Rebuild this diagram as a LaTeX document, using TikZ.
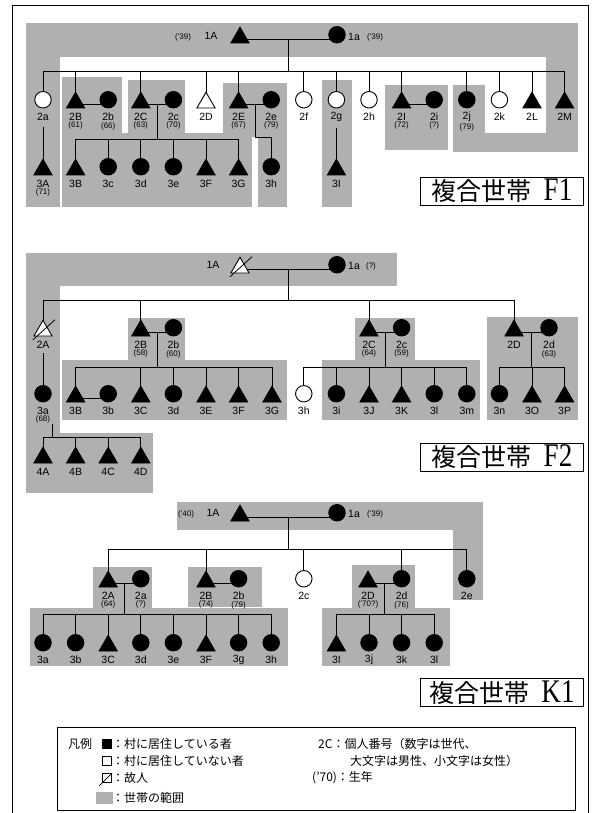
\documentclass[tikz,border=0pt]{standalone}
\usepackage{fontspec}
\usepackage{graphicx}
\setmainfont{Liberation Sans}
\newfontfamily\cjk{Noto Sans CJK JP}
\newfontfamily\serifF{Liberation Serif}
\usetikzlibrary{shapes.geometric,calc}
\pgfdeclarelayer{shadelayer}
\pgfdeclarelayer{linelayer}
\pgfsetlayers{shadelayer,linelayer,main}
\newcommand\labfont{\fontsize{10.5}{10.5}\selectfont}
\newcommand\yrfont{\fontsize{8}{8}\selectfont}
\newcommand\lgfont{\cjk\fontsize{12}{12}\selectfont}
\tikzset{
 sym/.style={draw, line width=0.9pt, inner sep=0pt, outer sep=0pt},
 pm/.style={sym, regular polygon, regular polygon sides=3, minimum size=21pt, fill=black, yshift=5.25pt},
 pmo/.style={pm, fill=white},
 pf/.style={sym, circle, minimum size=16.5pt, fill=black, yshift=8.25pt},
 pfo/.style={pf, fill=white},
 lab/.style={font=\labfont, inner sep=0pt},
 yr/.style={font=\yrfont, inner sep=0pt},
 ln/.style={line width=0.8pt},
 mln/.style={line width=1.2pt},
 shd/.style={fill=black!31},
 lgt/.style={font=\lgfont, inner sep=0pt, anchor=west},
 titlebox/.style={draw, line width=0.9pt, minimum width=163pt, minimum height=28pt, inner sep=0pt},
}
\newcommand\psym[4]{\node[#2] (#1) at (#3,#4) {};}
\newcommand\person[5]{\psym{#1}{#2}{#3}{#4}\node[lab] (#1l) at (#3,#4+9) {#5};}
\newcommand\pyear[2]{\node[yr, anchor=north] (#1y) at ($(#1l.south)+(0,1)$) {#2};}
\newcommand\pmarry[2]{\path ($(#1.center)+(0,2)$) coordinate (mA); \draw[mln] (mA) -- (mA -| #2.center);}
\newcommand\pdesc[3]{\path ($(#1.center)!.5!(#2.center)$) coordinate (dmA); \path (dmA |- #1.center) coordinate (dmB); \draw[ln] ($(dmB)+(0,2)$) -- (dmB |- #3);}
\newcommand\pbar[3]{\draw[ln] (#1.center |- #3) -- (#2.center |- #3);}
\newcommand\pdrop[2]{\draw[ln] (#1.center |- #2) -- (#1.center);}
\newcommand\ptitle[3]{\node[titlebox] (#1) at (502,#2) {\cjk\fontsize{25}{25}\selectfont 複合世帯\hspace{12pt}\serifF\scalebox{0.82}[1]{\fontsize{33}{33}\selectfont #3}};}
\begin{document}
\begin{tikzpicture}[x=1pt,y=-1pt]
\useasboundingbox (0,0) rectangle (594,813);
\draw[line width=0.9pt] (12,813) -- (12,5) -- (588,5) -- (588,813);

% ================= F1 =================
\begin{pgfonlayer}{shadelayer}
\fill[shd] (26,23) rectangle (578,57);
\fill[shd] (26,23) rectangle (60,207);
\fill[shd] (546,23) rectangle (578,152);
\fill[shd] (453,85) rectangle (485,152);
\fill[shd] (453,133) rectangle (578,152);
\fill[shd] (385,85) rectangle (448,150);
\fill[shd] (322,80) rectangle (352,207);
\fill[shd] (62,77) rectangle (122,137);
\fill[shd] (128,80) rectangle (185,137);
\fill[shd] (223,83) rectangle (287,137);
\fill[shd] (62,133) rectangle (252,207);
\fill[shd] (258,133) rectangle (287,207);
\end{pgfonlayer}
\psym{F1-1A}{pm}{240}{43}
\psym{F1-1a}{pf}{337}{43}
\node[yr] (F1-1Ay) at (183,37) {(’39)};
\node[lab] (F1-1Al) at (211,36) {1A};
\node[lab] (F1-1al) at (354,37) {1a};
\node[yr] (F1-1ay) at (375,37) {(’39)};
\coordinate (F1b2) at (0,71);
\coordinate (F1b3) at (0,139);
\person{F1-2a}{pfo}{43}{108}{2a}
\person{F1-2B}{pm}{75.6}{108}{2B}\pyear{F1-2B}{(61)}
\person{F1-2b}{pf}{108.2}{108}{2b}\pyear{F1-2b}{(66)}
\person{F1-2C}{pm}{140.8}{108}{2C}\pyear{F1-2C}{(63)}
\person{F1-2c}{pf}{173.4}{108}{2c}\pyear{F1-2c}{(70)}
\person{F1-2D}{pmo}{206}{108}{2D}
\person{F1-2E}{pm}{238.6}{108}{2E}\pyear{F1-2E}{(67)}
\person{F1-2e}{pf}{271.2}{108}{2e}\pyear{F1-2e}{(79)}
\person{F1-2f}{pfo}{303.8}{108}{2f}
\person{F1-2g}{pfo}{336.4}{108}{2g}
\person{F1-2h}{pfo}{369}{108}{2h}
\person{F1-2I}{pm}{401.6}{108}{2I}\pyear{F1-2I}{(72)}
\person{F1-2i}{pf}{434.2}{108}{2i}\pyear{F1-2i}{(?)}
\person{F1-2j}{pf}{466.8}{108}{2j}\pyear{F1-2j}{(79)}
\person{F1-2k}{pfo}{499.4}{108}{2k}
\person{F1-2L}{pm}{532}{108}{2L}
\person{F1-2M}{pm}{564.6}{108}{2M}
\person{F1-3A}{pm}{43}{175}{3A}\pyear{F1-3A}{(71)}
\person{F1-3B}{pm}{75.6}{175}{3B}
\person{F1-3c}{pf}{108.2}{175}{3c}
\person{F1-3d}{pf}{140.8}{175}{3d}
\person{F1-3e}{pf}{173.4}{175}{3e}
\person{F1-3F}{pm}{206}{175}{3F}
\person{F1-3G}{pm}{238.6}{175}{3G}
\person{F1-3h}{pf}{271.2}{175}{3h}
\person{F1-3I}{pm}{336.4}{175}{3I}
\begin{pgfonlayer}{linelayer}
\pmarry{F1-1A}{F1-1a}
\pdesc{F1-1A}{F1-1a}{F1b2}
\pbar{F1-2a}{F1-2M}{F1b2}
\foreach \n in {2a,2B,2C,2D,2E,2f,2g,2h,2I,2j,2k,2L,2M} {\pdrop{F1-\n}{F1b2}}
\pmarry{F1-2B}{F1-2b}
\pmarry{F1-2C}{F1-2c}
\pmarry{F1-2E}{F1-2e}
\pmarry{F1-2I}{F1-2i}
\pdesc{F1-2C}{F1-2c}{F1b3}
\pbar{F1-3B}{F1-3G}{F1b3}
\foreach \n in {3B,3c,3d,3e,3F,3G} {\pdrop{F1-\n}{F1b3}}
\path ($(F1-2E.center)!.5!(F1-2e.center)$) coordinate (F1m3);
\path (F1m3 |- F1-2E.center) coordinate (F1m3b);
\draw[ln] ($(F1m3b)+(0,2)$) |- ($(F1-3h.center |- F1b3)+(0,-2)$) -- (F1-3h.center);
\draw[ln] ($(F1-2al.south)+(0,6)$) -- (F1-3A.center);
\draw[ln] ($(F1-2gl.south)+(0,6)$) -- (F1-3I.center);
\end{pgfonlayer}
\ptitle{F1t}{191}{F1}

% ================= F2 =================
\begin{pgfonlayer}{shadelayer}
\fill[shd] (26,253) rectangle (397,286);
\fill[shd] (26,253) rectangle (60,493);
\fill[shd] (26,433) rectangle (153,493);
\fill[shd] (128,318) rectangle (185,362);
\fill[shd] (62,360) rectangle (287,420);
\fill[shd] (355,318) rectangle (415,362);
\fill[shd] (322,360) rectangle (480,420);
\fill[shd] (487,317) rectangle (578,420);
\end{pgfonlayer}
\psym{F2-1A}{pmo}{240}{273}
\psym{F2-1a}{pf}{337}{273}
\node[lab] (F2-1Al) at (213,265) {1A};
\node[lab] (F2-1al) at (354,266) {1a};
\node[yr] (F2-1ay) at (371,266) {(?)};
\coordinate (F2b2) at (0,300);
\coordinate (F2b3) at (0,367);
\coordinate (F2b4) at (0,437);
\person{F2-2A}{pmo}{43}{336}{2A}
\person{F2-2B}{pm}{140.8}{336}{2B}\pyear{F2-2B}{(58)}
\person{F2-2b}{pf}{173.4}{336}{2b}\pyear{F2-2b}{(60)}
\person{F2-2C}{pm}{369}{336}{2C}\pyear{F2-2C}{(64)}
\person{F2-2c}{pf}{401.6}{336}{2c}\pyear{F2-2c}{(59)}
\person{F2-2D}{pm}{514}{336}{2D}
\person{F2-2d}{pf}{549}{336}{2d}\pyear{F2-2d}{(63)}
\person{F2-3a}{pf}{43}{402}{3a}\pyear{F2-3a}{(68)}
\person{F2-3B}{pm}{75.6}{402}{3B}
\person{F2-3b}{pf}{108.2}{402}{3b}
\person{F2-3C}{pm}{140.8}{402}{3C}
\person{F2-3d}{pf}{173.4}{402}{3d}
\person{F2-3E}{pm}{206}{402}{3E}
\person{F2-3F}{pm}{238.6}{402}{3F}
\person{F2-3G}{pm}{272}{402}{3G}
\person{F2-3h}{pfo}{303.8}{402}{3h}
\person{F2-3i}{pf}{336.4}{402}{3i}
\person{F2-3J}{pm}{369}{402}{3J}
\person{F2-3K}{pm}{401.6}{402}{3K}
\person{F2-3l}{pf}{434.2}{402}{3l}
\person{F2-3m}{pf}{466.8}{402}{3m}
\person{F2-3n}{pf}{499.4}{402}{3n}
\person{F2-3O}{pm}{532}{402}{3O}
\person{F2-3P}{pm}{564.6}{402}{3P}
\person{F2-4A}{pm}{43}{463}{4A}
\person{F2-4B}{pm}{75.6}{463}{4B}
\person{F2-4C}{pm}{108.2}{463}{4C}
\person{F2-4D}{pm}{140.8}{463}{4D}
\draw[ln] ([shift={(-10pt,-9pt)}]F2-1A.center) -- ([shift={(12pt,11pt)}]F2-1A.center);
\draw[ln] ([shift={(-10pt,-9pt)}]F2-2A.center) -- ([shift={(12pt,11pt)}]F2-2A.center);
\begin{pgfonlayer}{linelayer}
\pmarry{F2-1A}{F2-1a}
\pdesc{F2-1A}{F2-1a}{F2b2}
\pbar{F2-2A}{F2-2D}{F2b2}
\foreach \n in {2A,2B,2C,2D} {\pdrop{F2-\n}{F2b2}}
\pmarry{F2-2B}{F2-2b}
\pmarry{F2-2C}{F2-2c}
\pmarry{F2-2D}{F2-2d}
\pdesc{F2-2B}{F2-2b}{F2b3}
\pdesc{F2-2C}{F2-2c}{F2b3}
\pdesc{F2-2D}{F2-2d}{F2b3}
\pbar{F2-3B}{F2-3G}{F2b3}
\pbar{F2-3h}{F2-3m}{F2b3}
\pbar{F2-3n}{F2-3P}{F2b3}
\foreach \n in {3B,3C,3d,3E,3F,3G,3h,3i,3J,3K,3l,3m,3n,3O,3P} {\pdrop{F2-\n}{F2b3}}
\pmarry{F2-3B}{F2-3b}
\draw[ln] ($(F2-2Al.south)+(0,4)$) -- (F2-3a.center);
\path ($(F2-3ay.south)+(9,0)$) coordinate (F2c4);
\draw[ln] (F2c4) -- (F2c4 |- F2b4);
\pbar{F2-4A}{F2-4D}{F2b4}
\foreach \n in {4A,4B,4C,4D} {\pdrop{F2-\n}{F2b4}}
\end{pgfonlayer}
\ptitle{F2t}{457}{F2}

% ================= K1 =================
\begin{pgfonlayer}{shadelayer}
\fill[shd] (177,502) rectangle (483,530);
\fill[shd] (453,502) rectangle (483,600);
\fill[shd] (93,567) rectangle (152,610);
\fill[shd] (188,567) rectangle (262,607);
\fill[shd] (352,565) rectangle (415,610);
\fill[shd] (30,608) rectangle (288,666);
\fill[shd] (322,608) rectangle (450,666);
\end{pgfonlayer}
\psym{K1-1A}{pm}{240}{521}
\psym{K1-1a}{pf}{337}{521}
\node[yr] (K1-1Ay) at (186,514) {(’40)};
\node[lab] (K1-1Al) at (213,513) {1A};
\node[lab] (K1-1al) at (354,514) {1a};
\node[yr] (K1-1ay) at (375,514) {(’39)};
\coordinate (K1b2) at (0,549);
\coordinate (K1b3) at (0,614);
\person{K1-2A}{pm}{108.2}{587}{2A}\pyear{K1-2A}{(64)}
\person{K1-2a}{pf}{140.8}{587}{2a}\pyear{K1-2a}{(?)}
\person{K1-2B}{pm}{206}{587}{2B}\pyear{K1-2B}{(74)}
\person{K1-2b}{pf}{238.6}{587}{2b}\pyear{K1-2b}{(79)}
\person{K1-2c}{pfo}{303.8}{587}{2c}
\person{K1-2D}{pm}{368}{587}{2D}\pyear{K1-2D}{(’70?)}
\person{K1-2d}{pf}{401.6}{587}{2d}\pyear{K1-2d}{(76)}
\person{K1-2e}{pf}{466.8}{587}{2e}
\person{K1-3a}{pf}{43}{651}{3a}
\person{K1-3b}{pf}{75.6}{651}{3b}
\person{K1-3C}{pm}{108.2}{651}{3C}
\person{K1-3d}{pf}{140.8}{651}{3d}
\person{K1-3e}{pf}{173.4}{651}{3e}
\person{K1-3F}{pm}{206}{651}{3F}
\person{K1-3g}{pf}{238.6}{651}{3g}
\person{K1-3h}{pf}{271.2}{651}{3h}
\person{K1-3I}{pm}{336.4}{651}{3I}
\person{K1-3j}{pf}{369}{651}{3j}
\person{K1-3k}{pf}{401.6}{651}{3k}
\person{K1-3l}{pf}{434.2}{651}{3l}
\begin{pgfonlayer}{linelayer}
\pmarry{K1-1A}{K1-1a}
\pdesc{K1-1A}{K1-1a}{K1b2}
\pbar{K1-2A}{K1-2e}{K1b2}
\foreach \n in {2A,2B,2c,2d,2e} {\pdrop{K1-\n}{K1b2}}
\pmarry{K1-2A}{K1-2a}
\pmarry{K1-2B}{K1-2b}
\pmarry{K1-2D}{K1-2d}
\pdesc{K1-2A}{K1-2a}{K1b3}
\pdesc{K1-2D}{K1-2d}{K1b3}
\pbar{K1-3a}{K1-3h}{K1b3}
\pbar{K1-3I}{K1-3l}{K1b3}
\foreach \n in {3a,3b,3C,3d,3e,3F,3g,3h,3I,3j,3k,3l} {\pdrop{K1-\n}{K1b3}}
\end{pgfonlayer}
\ptitle{K1t}{692.5}{K1}

% ================= legend =================
\node[draw, line width=0.9pt, minimum width=518pt, minimum height=83pt, inner sep=0pt] (lgbox) at (316,769) {};
\node[lgt] (lgh) at (68,744) {凡例};
\node[draw, fill=black, minimum size=9pt, inner sep=0pt] (lg1) at (107,744) {};
\node[lgt] (lg1t) at (112,744) {：村に居住している者};
\node[draw, line width=0.7pt, minimum size=9pt, inner sep=0pt] (lg2) at (107,761) {};
\node[lgt] (lg2t) at (112,761) {：村に居住していない者};
\node[draw, line width=0.7pt, minimum size=9pt, inner sep=0pt] (lg3) at (107,778) {};
\draw[line width=0.7pt] ([shift={(-3pt,-3pt)}]lg3.south west) -- (lg3.north east);
\node[lgt] (lg3t) at (112,778) {：故人};
\node[shd, minimum width=17pt, minimum height=12pt, inner sep=0pt] (lg4) at (104,798) {};
\node[lgt] (lg4t) at (112,798) {：世帯の範囲};
\node[lgt] (lg5) at (318,744) {2C：個人番号（数字は世代、};
\node[lgt] (lg6) at (350,761) {大文字は男性、小文字は女性）};
\node[lgt] (lg7) at (312,778) {(’70)：生年};
\end{tikzpicture}
\end{document}
